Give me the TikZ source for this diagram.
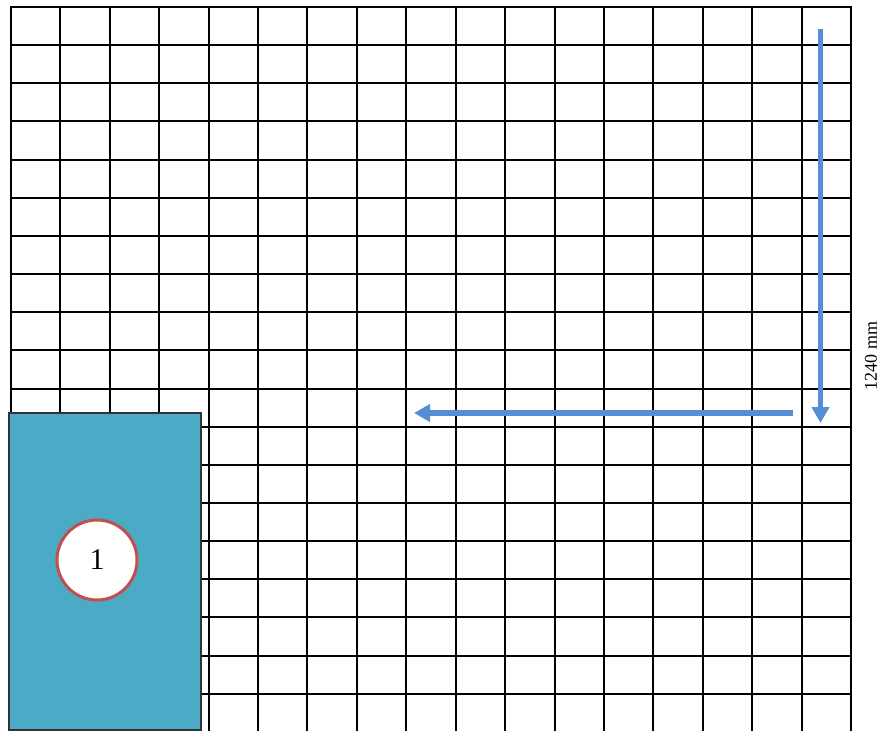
\documentclass[tikz,border=0pt]{standalone}
\usepackage{fontspec}
\setmainfont{Liberation Serif}
\usetikzlibrary{arrows.meta}
\definecolor{teal1}{RGB}{75,170,197}
\definecolor{redc}{RGB}{192,80,77}
\definecolor{bluea}{RGB}{85,142,213}
\tikzset{
  gridline/.style={line width=2pt, black},
  tealbox/.style={fill=teal1, draw=black!80, line width=1.5pt},
  numcircle/.style={circle, fill=white, draw=redc, line width=3pt, minimum size=80pt, inner sep=0pt, font=\fontsize{30}{30}\selectfont},
  bluearrow/.style={draw=bluea, line width=5.5pt, -{Triangle[width=17pt,length=16pt]}},
  dimlabel/.style={rotate=90, font=\fontsize{18}{18}\selectfont, inner sep=0pt}
}
\begin{document}
\begin{tikzpicture}[x=1pt,y=-1pt]
\useasboundingbox (0,0) rectangle (886,731);
% grid
\foreach \i in {0,...,17} {
  \draw[gridline] ({11+\i*49.41},7) -- ({11+\i*49.41},731);
}
\foreach \j in {0,...,18} {
  \draw[gridline] (10,{7+\j*38.15}) -- (852,{7+\j*38.15});
}
% box
\draw[tealbox] (9,413) rectangle (201,730.2);
\node[numcircle] (c1) at (97,560) {1};
% arrows
\coordinate (vs) at (820.5,29);
\coordinate (ve) at (820.5,423);
\coordinate (hs) at (793,413);
\coordinate (he) at (414,413);
\draw[bluearrow] (vs) -- (ve);
\draw[bluearrow] (hs) -- (he);
\node[dimlabel] (lbl) at (871,356) {1240 mm};
\end{tikzpicture}
\end{document}
